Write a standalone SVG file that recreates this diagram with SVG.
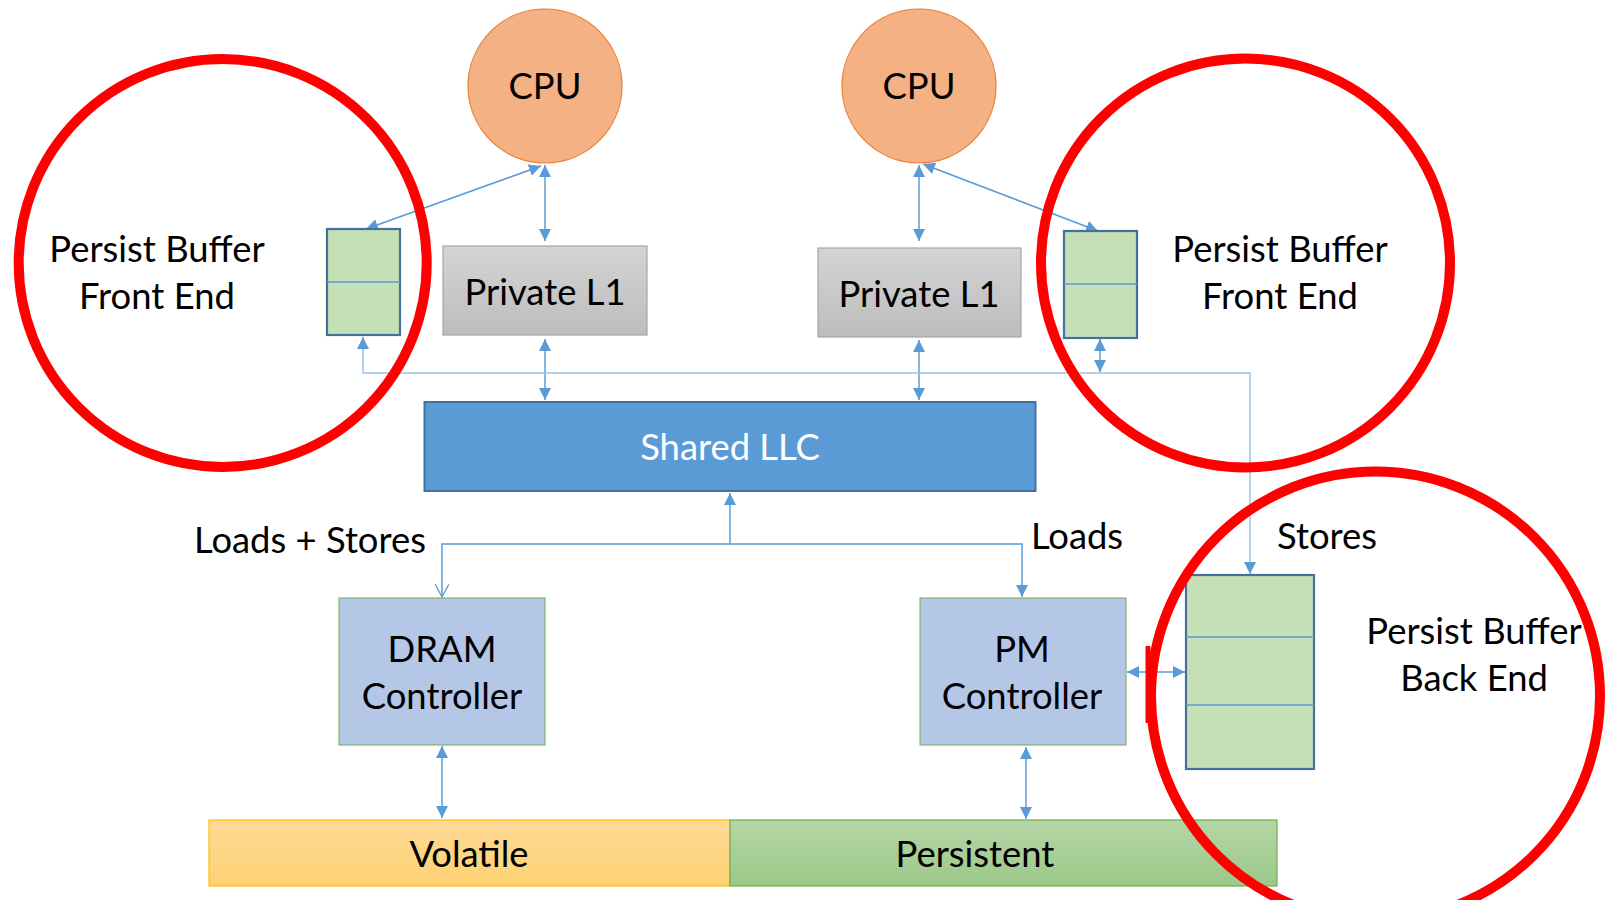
<svg xmlns="http://www.w3.org/2000/svg" width="1615" height="900" viewBox="0 0 1615 900">
<style>
text{font-family:Lato,"Open Sans","Liberation Sans",sans-serif;font-size:36.4px;fill:#000;text-anchor:middle}
.cpu{fill:#F4B183;stroke:#ED7D31;stroke-width:1.2}
.buf{fill:#C5E0B4;stroke:#41719C;stroke-width:2.2}
.div{stroke:#5B9BD5;stroke-width:1.5}
.l1{fill:url(#gGray);stroke:#A6A6A6;stroke-width:1.2}
.ctl{fill:#B4C7E7;stroke:#70AD47;stroke-width:1}
.red{fill:none;stroke:#FF0000;stroke-width:10}
.c{fill:none;stroke:#5B9BD5;stroke-width:1.5}
.bus{fill:none;stroke:#9DC3E6;stroke-width:1.5}
.d{marker-start:url(#ah);marker-end:url(#ah)}
.e{marker-end:url(#ah)}
</style>
<defs>
<marker id="ah" viewBox="0 0 12 12" markerWidth="12" markerHeight="12" markerUnits="userSpaceOnUse" refX="12" refY="6" orient="auto-start-reverse"><path d="M0,0 L12,6 L0,12 z" fill="#5B9BD5"/></marker>
<marker id="open" viewBox="0 0 14 14" markerWidth="14" markerHeight="14" markerUnits="userSpaceOnUse" refX="13" refY="7" orient="auto"><path d="M0,0 L13,7 L0,14" fill="none" stroke="#5B9BD5" stroke-width="1.3"/></marker>
<linearGradient id="gGray" x1="0" y1="0" x2="0" y2="1"><stop offset="0" stop-color="#D4D4D4"/><stop offset="1" stop-color="#BDBDBD"/></linearGradient>
<linearGradient id="gYel" x1="0" y1="0" x2="0" y2="1"><stop offset="0" stop-color="#FEDA98"/><stop offset="1" stop-color="#FED171"/></linearGradient>
<linearGradient id="gGrn" x1="0" y1="0" x2="0" y2="1"><stop offset="0" stop-color="#B5D5A6"/><stop offset="1" stop-color="#9CC88A"/></linearGradient>
</defs>

<g id="connectors">
<line class="c d" x1="545" y1="165" x2="545" y2="241"/>
<line class="c d" x1="541" y1="166" x2="366" y2="229"/>
<line class="c d" x1="545" y1="339" x2="545" y2="400"/>
<line class="c d" x1="919" y1="165" x2="919" y2="241"/>
<line class="c d" x1="923" y1="164" x2="1098" y2="231"/>
<line class="c d" x1="919" y1="340" x2="919" y2="400"/>
<line class="c d" x1="1100" y1="339" x2="1100" y2="372"/>
<path class="bus" d="M1250,374 V373 H363 V345"/>
<path class="bus e" d="M1250,373 V574"/>
<path class="c e" d="M363,350 V337"/>
<path class="c e" d="M730,544 V493"/>
<path class="c" d="M730,544 H442 V597" marker-end="url(#open)"/>
<path class="c e" d="M730,544 H1022 V597"/>
<line class="c d" x1="442" y1="746" x2="442" y2="818"/>
<line class="c d" x1="1026" y1="747" x2="1026" y2="819"/>
<line class="c d" x1="1127" y1="672" x2="1185" y2="672"/>
</g>

<g id="cpu-left"><circle class="cpu" cx="545" cy="86" r="77"/><text x="545" y="99">CPU</text></g>
<g id="cpu-right"><circle class="cpu" cx="919" cy="86" r="77"/><text x="919" y="99">CPU</text></g>

<g id="l1-left"><rect class="l1" x="443" y="246" width="204" height="89"/><text x="545" y="305">Private L1</text></g>
<g id="l1-right"><rect class="l1" x="818" y="248" width="203" height="89"/><text x="919" y="307">Private L1</text></g>

<g id="pb-front-left"><rect class="buf" x="327" y="229" width="73" height="106"/><line class="div" x1="327" y1="282" x2="400" y2="282"/></g>
<g id="pb-front-right"><rect class="buf" x="1064" y="231" width="73" height="107"/><line class="div" x1="1064" y1="284" x2="1137" y2="284"/></g>

<g id="llc"><rect x="424.5" y="402" width="611" height="89" fill="#5B9BD5" stroke="#41719C" stroke-width="2"/><text x="730" y="460" style="fill:#fff">Shared LLC</text></g>

<g id="labels">
<text x="310" y="553">Loads + Stores</text>
<text x="1077" y="549">Loads</text>
<text x="1327" y="549">Stores</text>
</g>

<g id="dram"><rect class="ctl" x="339" y="598" width="206" height="147"/><text x="442" y="662">DRAM</text><text x="442" y="709">Controller</text></g>
<g id="pm"><rect class="ctl" x="920" y="598" width="206" height="147"/><text x="1022" y="662">PM</text><text x="1022" y="709">Controller</text></g>

<g id="pb-back"><rect class="buf" x="1186" y="575" width="128" height="194"/><line class="div" x1="1186" y1="637" x2="1314" y2="637"/><line class="div" x1="1186" y1="705" x2="1314" y2="705"/></g>

<g id="volatile"><rect x="209" y="820" width="521" height="66" fill="url(#gYel)" stroke="#FFC000" stroke-width="1.2"/><text x="469" y="867">Volatile</text></g>
<g id="persistent"><rect x="730" y="820" width="547" height="66" fill="url(#gGrn)" stroke="#70AD47" stroke-width="1.2"/><text x="975" y="867">Persistent</text></g>

<g id="highlights">
<circle class="red" cx="222.7" cy="263" r="204"/>
<circle class="red" cx="1245.5" cy="263" r="204.5"/>
<circle class="red" cx="1375.5" cy="696" r="224.5"/>
<rect x="1145.5" y="646" width="5" height="77" fill="#FF0000"/>
</g>

<g id="texts-highlight">
<text x="157" y="262">Persist Buffer</text>
<text x="157" y="309">Front End</text>
<text x="1280" y="262">Persist Buffer</text>
<text x="1280" y="309">Front End</text>
<text x="1474" y="644">Persist Buffer</text>
<text x="1474" y="691">Back End</text>
</g>
</svg>
